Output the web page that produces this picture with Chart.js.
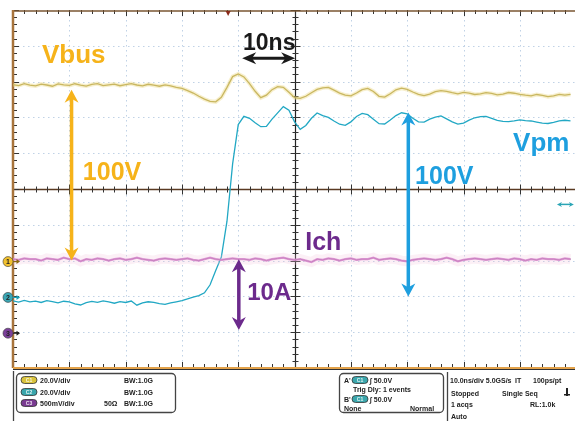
<!DOCTYPE html>
<html>
<head>
<meta charset="utf-8">
<script src="https://cdn.jsdelivr.net/npm/chart.js@4.4.0/dist/chart.umd.min.js"></script>
<style>
html, body { margin: 0; padding: 0; background: #fff; overflow: hidden; }
canvas { display: block; }
</style>
</head>
<body>
<canvas id="scope" width="575" height="421"></canvas>
<script>
// scope capture, 10 ns/div, one sample per ns
var SAMPLE_NS = 1;

// ch1 Vbus (V), 20 V/div
var vbus = [
    98.3, 97.8, 98.9, 98.0, 97.6, 98.6, 98.1, 97.4, 98.7, 98.2,
    97.9, 98.8, 98.0, 97.5, 98.4, 98.9, 97.8, 98.2, 98.6, 97.7,
    98.3, 98.9, 98.1, 97.6, 98.5, 98.0, 97.4, 98.2, 97.6, 96.8,
    96.2, 95.0, 93.6, 91.8, 90.2, 89.0, 88.7, 91.2, 96.8, 102.8,
    104.3, 102.6, 98.9, 94.6, 91.0, 92.4, 95.5, 97.2, 96.8, 94.0,
    91.0, 90.6, 91.8, 93.8, 95.6, 96.5, 96.8, 95.2, 93.6, 92.5,
    92.0, 93.6, 95.5, 96.2, 94.5, 91.8, 91.3, 93.2, 95.4, 96.3,
    95.6, 94.2, 92.9, 92.2, 93.0, 94.4, 95.0, 94.6, 93.8, 93.2,
    94.0, 93.6, 92.8, 93.1, 93.8, 93.4, 92.6, 93.0, 93.9, 93.5,
    92.9, 92.4, 92.0, 92.8, 92.3, 91.6, 92.0, 92.9, 92.4, 92.9
];

// ch2 Vpm (V), 20 V/div
var vpm = [
    -2.5, -3.2, -2.2, -3.0, -2.6, -3.4, -2.4, -2.9, -3.6, -2.7,
    -3.1, -4.2, -4.8, -3.5, -2.8, -3.3, -2.5, -3.0, -3.8, -2.9,
    -3.4, -2.6, -4.9, -3.6, -3.0, -3.3, -4.0, -4.5, -3.6, -3.0,
    -2.4, -1.4, -0.4, 0.4, 2.0, 6.5, 14.5, 22.0, 42.0, 74.0,
    96.0, 100.6, 99.5, 97.0, 94.8, 95.0, 99.0, 102.5, 106.0, 104.0,
    97.5, 93.3, 95.5, 99.5, 102.5, 101.0, 100.0, 98.0, 96.2, 95.6,
    97.5, 100.5, 102.2, 101.5, 99.0, 96.5, 96.3, 98.5, 101.0, 102.6,
    102.0, 99.5, 97.5, 97.4, 99.0, 100.2, 100.8, 99.2, 97.5, 96.3,
    96.8, 98.5, 99.8, 100.4, 100.6, 99.5, 98.4, 97.8, 97.6, 98.0,
    98.6, 98.2, 98.0, 97.4, 96.8, 96.6, 97.2, 98.0, 98.4, 98.1
];

// ch3 Ich (A), 5 A/div
var ich = [
    10.2, 10.1, 10.3, 10.2, 10.2, 10.0, 10.3, 10.2, 10.1, 10.4,
    10.2, 10.3, 9.9, 10.2, 10.1, 10.3, 10.2, 10.0, 10.2, 10.3,
    10.1, 10.2, 10.4, 10.2, 10.1, 10.0, 10.2, 10.3, 10.2, 10.1,
    10.2, 10.3, 10.1, 10.0, 10.2, 10.4, 10.2, 10.1, 10.2, 10.3,
    10.2, 10.2, 10.1, 10.3, 10.2, 10.0, 10.2, 10.3, 10.4, 10.2,
    10.1, 10.2, 10.0, 9.8, 10.2, 10.1, 10.3, 10.2, 10.0, 10.2,
    10.3, 10.1, 10.2, 10.2, 10.4, 10.1, 10.2, 10.3, 10.2, 10.0,
    9.9, 10.1, 10.2, 10.3, 10.2, 10.1, 10.2, 10.4, 10.2, 9.9,
    10.1, 10.2, 10.3, 10.2, 10.1, 10.2, 10.3, 10.2, 10.1, 10.3,
    10.2, 10.0, 10.2, 10.1, 10.3, 10.2, 10.2, 10.1, 10.3, 10.2
];

var gridTimes = [10, 20, 30, 40, 60, 70, 80, 90];      // ns
var gridBusVolts = [-40, -20, 0, 20, 60, 80, 100, 120]; // ch1 scale
var centerTime = 50;
var centerBusVolt = 40;

var ORANGE = '#f6b31a';
var CYAN = '#1e9fdf';
var PURPLE = '#6c2a8c';
var FONT = '"Liberation Sans", Arial, sans-serif';

function points(values) {
    return values.map(function (v, i) { return { x: i * SAMPLE_NS, y: v }; });
}

function arrowHead(ctx, tipX, tipY, dx, dy, len, half) {
    var px = -dy, py = dx;
    ctx.beginPath();
    ctx.moveTo(tipX, tipY);
    ctx.lineTo(tipX - dx * len + px * half, tipY - dy * len + py * half);
    ctx.lineTo(tipX - dx * len * 0.7, tipY - dy * len * 0.7);
    ctx.lineTo(tipX - dx * len - px * half, tipY - dy * len - py * half);
    ctx.closePath();
    ctx.fill();
}

function doubleArrow(ctx, x1, y1, x2, y2, color, width, len, half) {
    var d = Math.hypot(x2 - x1, y2 - y1);
    var dx = (x2 - x1) / d, dy = (y2 - y1) / d;
    ctx.save();
    ctx.strokeStyle = color;
    ctx.fillStyle = color;
    ctx.lineWidth = width;
    ctx.beginPath();
    ctx.moveTo(x1 + dx * len * 0.6, y1 + dy * len * 0.6);
    ctx.lineTo(x2 - dx * len * 0.6, y2 - dy * len * 0.6);
    ctx.stroke();
    arrowHead(ctx, x2, y2, dx, dy, len, half);
    arrowHead(ctx, x1, y1, -dx, -dy, len, half);
    ctx.restore();
}

var scopePlugin = {
    id: 'scope',
    beforeDatasetsDraw: function (chart) {
        var ctx = chart.ctx, a = chart.chartArea;
        var x = chart.scales.x, yb = chart.scales.yBus;
        ctx.save();
        // dotted graticule
        ctx.strokeStyle = 'rgba(130,165,205,0.5)';
        ctx.lineWidth = 1;
        ctx.setLineDash([1.5, 3.5]);
        gridTimes.forEach(function (t) {
            var px = Math.round(x.getPixelForValue(t)) + 0.5;
            ctx.beginPath(); ctx.moveTo(px, a.top); ctx.lineTo(px, a.bottom); ctx.stroke();
        });
        gridBusVolts.forEach(function (v) {
            var py = Math.round(yb.getPixelForValue(v)) + 0.5;
            ctx.beginPath(); ctx.moveTo(a.left, py); ctx.lineTo(a.right, py); ctx.stroke();
        });
        ctx.setLineDash([]);

        var cx = Math.round(x.getPixelForValue(centerTime)) + 0.5;
        var cy = Math.round(yb.getPixelForValue(centerBusVolt)) + 0.5;
        // center cross
        ctx.strokeStyle = '#5a3a22';
        ctx.lineWidth = 1.3;
        ctx.beginPath(); ctx.moveTo(a.left, cy); ctx.lineTo(a.right, cy); ctx.stroke();
        ctx.strokeStyle = '#222';
        ctx.lineWidth = 1.2;
        ctx.beginPath(); ctx.moveTo(cx, a.top); ctx.lineTo(cx, a.bottom); ctx.stroke();

        // minor ticks, five per division
        ctx.strokeStyle = '#333';
        ctx.lineWidth = 1;
        var t, v, px, py;
        for (t = 0; t <= 100; t += 2) {
            px = Math.round(x.getPixelForValue(t)) + 0.5;
            var big = t % 10 === 0 ? 2 : 0;
            ctx.beginPath();
            ctx.moveTo(px, cy - 3 - big); ctx.lineTo(px, cy + 3 + big);
            ctx.moveTo(px, a.top); ctx.lineTo(px, a.top + 4 + big);
            ctx.moveTo(px, a.bottom); ctx.lineTo(px, a.bottom - 4 - big);
            ctx.stroke();
        }
        for (v = -60; v <= 140; v += 4) {
            py = Math.round(yb.getPixelForValue(v)) + 0.5;
            var bigv = v % 20 === 0 ? 2 : 0;
            ctx.beginPath();
            ctx.moveTo(cx - 3 - bigv, py); ctx.lineTo(cx + 3 + bigv, py);
            ctx.moveTo(a.left, py); ctx.lineTo(a.left + 4 + bigv, py);
            ctx.stroke();
        }

        // frame
        ctx.strokeStyle = '#7a5632';
        ctx.lineWidth = 1.5;
        ctx.beginPath(); ctx.moveTo(a.right, a.top + 1); ctx.lineTo(a.left, a.top + 1); ctx.stroke();
        ctx.strokeStyle = '#a8743c';
        ctx.lineWidth = 2.5;
        ctx.beginPath(); ctx.moveTo(a.left, a.top); ctx.lineTo(a.left, a.bottom); ctx.stroke();
        ctx.strokeStyle = '#e3a24a';
        ctx.lineWidth = 2;
        ctx.beginPath(); ctx.moveTo(a.left, a.bottom); ctx.lineTo(a.right, a.bottom); ctx.stroke();
        ctx.strokeStyle = '#333';
        ctx.lineWidth = 1;
        ctx.beginPath(); ctx.moveTo(a.left, a.bottom + 1.5); ctx.lineTo(a.right, a.bottom + 1.5); ctx.stroke();

        // trigger position marker
        px = x.getPixelForValue(38.2);
        ctx.fillStyle = '#8b2a1a';
        ctx.beginPath();
        ctx.moveTo(px - 2.5, a.top + 1); ctx.lineTo(px + 2.5, a.top + 1); ctx.lineTo(px, a.top + 6);
        ctx.closePath(); ctx.fill();
        ctx.restore();
    },
    afterDatasetsDraw: function (chart) {
        var ctx = chart.ctx, s = chart.scales;
        var X = function (t) { return s.x.getPixelForValue(t); };
        ctx.save();

        // ground markers
        [['1', '#f2c12e', s.yBus, '#8a6a10'], ['2', '#3aa6b4', s.yPm, '#1aa0b8'], ['3', '#7b3f9a', s.yCh, '#222']]
            .forEach(function (m) {
                var py = m[2].getPixelForValue(0) + 1;
                ctx.fillStyle = m[1];
                ctx.strokeStyle = 'rgba(60,60,60,0.6)';
                ctx.lineWidth = 1;
                ctx.beginPath(); ctx.arc(8, py, 5, 0, Math.PI * 2); ctx.fill(); ctx.stroke();
                ctx.fillStyle = '#222';
                ctx.font = 'bold 7px ' + FONT;
                ctx.textAlign = 'center';
                ctx.textBaseline = 'middle';
                ctx.fillText(m[0], 8, py + 0.5);
                ctx.strokeStyle = m[3];
                ctx.fillStyle = m[3];
                ctx.lineWidth = 1.2;
                ctx.beginPath(); ctx.moveTo(13, py); ctx.lineTo(18, py); ctx.stroke();
                ctx.beginPath(); ctx.moveTo(20, py); ctx.lineTo(16.5, py - 2.5); ctx.lineTo(16.5, py + 2.5); ctx.closePath(); ctx.fill();
            });

        // measurement arrows
        doubleArrow(ctx, X(10.4), s.yBus.getPixelForValue(95.5), X(10.4), s.yBus.getPixelForValue(0),
            ORANGE, 3.5, 13, 7);
        doubleArrow(ctx, X(70.2), s.yPm.getPixelForValue(102.8), X(70.2), s.yPm.getPixelForValue(0),
            CYAN, 3.5, 13, 7);
        doubleArrow(ctx, X(40.1), s.yCh.getPixelForValue(10.2), X(40.1), s.yCh.getPixelForValue(0.3),
            PURPLE, 3.5, 13, 7);
        var yTen = s.yBus.getPixelForValue(113);
        doubleArrow(ctx, X(40.7), yTen, X(50.1), yTen, '#1a1a1a', 3, 14, 6);
        var yOff = s.yPm.getPixelForValue(51.4);
        doubleArrow(ctx, X(96.6), yOff, X(99.6), yOff, '#2aa5b5', 1.5, 5, 2.5);

        // labels
        var labels = [
            { text: 'Vbus', t: 5.15, v: 110.6, axis: 'yBus', color: ORANGE, size: 26 },
            { text: '100V', t: 12.4, v: 45.3, axis: 'yBus', color: ORANGE, size: 25 },
            { text: '10ns', t: 40.85, v: 117.9, axis: 'yBus', color: '#1a1a1a', size: 23 },
            { text: 'Vpm', t: 88.8, v: 81.0, axis: 'yPm', color: CYAN, size: 26 },
            { text: '100V', t: 71.4, v: 62.6, axis: 'yPm', color: CYAN, size: 25 },
            { text: 'Ich', t: 51.9, v: 11.5, axis: 'yCh', color: PURPLE, size: 25 },
            { text: '10A', t: 41.6, v: 4.5, axis: 'yCh', color: PURPLE, size: 24 }
        ];
        ctx.textAlign = 'left';
        ctx.textBaseline = 'alphabetic';
        labels.forEach(function (l) {
            ctx.font = 'bold ' + l.size + 'px ' + FONT;
            ctx.fillStyle = l.color;
            ctx.fillText(l.text, X(l.t), s[l.axis].getPixelForValue(l.v));
        });
        ctx.restore();
    },
    afterDraw: function (chart) {
        var ctx = chart.ctx;
        ctx.save();
        ctx.strokeStyle = '#444';
        ctx.lineWidth = 1.3;
        ctx.beginPath(); ctx.moveTo(13.5, 371); ctx.lineTo(13.5, 421); ctx.stroke();
        ctx.beginPath(); ctx.moveTo(447.5, 372); ctx.lineTo(447.5, 421); ctx.stroke();
        ctx.beginPath(); ctx.roundRect(16.5, 373.5, 159, 39, 4); ctx.stroke();
        ctx.beginPath(); ctx.roundRect(339.5, 373.5, 104, 39, 4); ctx.stroke();

        function badge(x, y, fill, label) {
            ctx.fillStyle = fill;
            ctx.strokeStyle = '#333';
            ctx.lineWidth = 0.8;
            ctx.beginPath(); ctx.roundRect(x, y - 3.5, 16, 7, 3.5); ctx.fill(); ctx.stroke();
            ctx.fillStyle = 'rgba(255,255,255,0.85)';
            ctx.font = 'bold 5px ' + FONT;
            ctx.textAlign = 'center';
            ctx.fillText(label, x + 8, y + 2);
            ctx.textAlign = 'left';
        }
        function txt(s, x, y) {
            ctx.fillStyle = '#222';
            ctx.font = 'bold 7px ' + FONT;
            ctx.fillText(s, x, y);
        }
        ctx.textBaseline = 'alphabetic';
        ctx.textAlign = 'left';
        badge(21, 380, '#d9c33c', 'C1'); txt('20.0V/div', 40, 382.5); txt('BW:1.0G', 124, 382.5);
        badge(21, 392, '#3aa6ac', 'C2'); txt('20.0V/div', 40, 394.5); txt('BW:1.0G', 124, 394.5);
        badge(21, 403, '#7a3a92', 'C3'); txt('500mV/div', 40, 405.5); txt('50\u03a9', 104, 405.5); txt('BW:1.0G', 124, 405.5);

        txt("A'", 344, 382.5); badge(352, 380, '#3aa6ac', 'C1'); txt('\u222b 50.0V', 370, 382.5);
        txt('Trig Dly: 1 events', 353, 391.5);
        txt("B'", 344, 401.5); badge(352, 399, '#3aa6ac', 'C1'); txt('\u222b 50.0V', 370, 401.5);
        txt('None', 344, 410.5); txt('Normal', 410, 410.5);

        txt('10.0ns/div 5.0GS/s', 450, 382.5); txt('IT', 515, 382.5); txt('100ps/pt', 533, 382.5);
        txt('Stopped', 451, 395.5); txt('Single Seq', 502, 395.5);
        txt('1 acqs', 451, 406.5); txt('RL:1.0k', 530, 406.5);
        txt('Auto', 451, 418.5);
        ctx.fillStyle = '#222';
        ctx.fillRect(566, 388, 2, 8);
        ctx.fillRect(564, 394, 6, 1.5);
        ctx.restore();
    }
};

new Chart(document.getElementById('scope').getContext('2d'), {
    type: 'line',
    data: {
        datasets: [
            { label: 'Vbus glow', data: points(vbus), yAxisID: 'yBus', borderColor: 'rgba(235,215,130,0.4)', borderWidth: 4 },
            { label: 'Vbus', data: points(vbus), yAxisID: 'yBus', borderColor: '#b3a24a', borderWidth: 1.3 },
            { label: 'Ich glow', data: points(ich), yAxisID: 'yCh', borderColor: 'rgba(245,195,220,0.25)', borderWidth: 10 },
            { label: 'Ich band', data: points(ich), yAxisID: 'yCh', borderColor: 'rgba(210,120,205,0.85)', borderWidth: 2.2 },
            { label: 'Ich', data: points(ich), yAxisID: 'yCh', borderColor: '#2b2236', borderWidth: 1 },
            { label: 'Vpm', data: points(vpm), yAxisID: 'yPm', borderColor: '#22a8c4', borderWidth: 1.3 }
        ]
    },
    options: {
        responsive: false,
        animation: false,
        devicePixelRatio: 1,
        layout: { padding: { left: 13, top: 10, right: 0, bottom: 53 } },
        elements: { point: { radius: 0 }, line: { tension: 0, fill: false } },
        plugins: { legend: { display: false }, tooltip: { enabled: false } },
        scales: {
            x: { type: 'linear', min: 0, max: 99.8, display: false },
            yBus: { type: 'linear', min: -60, max: 140, display: false },
            yPm: { type: 'linear', min: -40, max: 160, display: false },
            yCh: { type: 'linear', min: -5, max: 45, display: false }
        }
    },
    plugins: [scopePlugin]
});
</script>
</body>
</html>
